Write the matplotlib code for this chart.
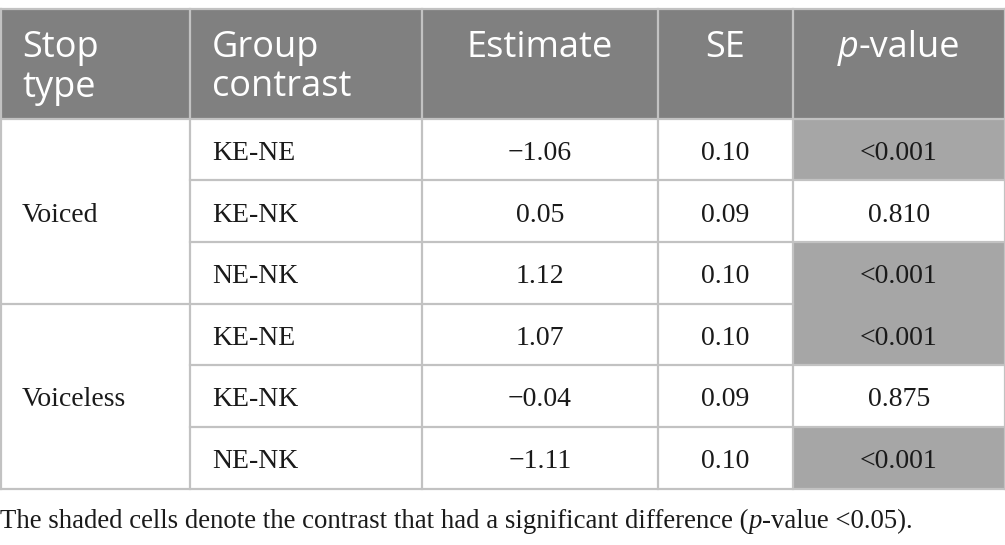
import matplotlib
matplotlib.use("Agg")
import matplotlib.pyplot as plt
from matplotlib.patches import Rectangle

# ---- data ----
headers = [["Stop", "type"], ["Group", "contrast"], ["Estimate"], ["SE"], ["p-value"]]
stop_types = ["Voiced", "Voiceless"]
contrasts = ["KE-NE", "KE-NK", "NE-NK", "KE-NE", "KE-NK", "NE-NK"]
estimates = ["\u22121.06", "0.05", "1.12", "1.07", "\u22120.04", "\u22121.11"]
se_values = ["0.10", "0.09", "0.10", "0.10", "0.09", "0.10"]
p_values = ["<0.001", "0.810", "<0.001", "<0.001", "0.875", "<0.001"]
significant = [True, False, True, True, False, True]
caption_parts = [("The shaded cells denote the contrast that had a significant difference (", "normal"),
                 ("p", "italic"), ("-value <0.05).", "normal")]

# ---- layout ----
W, H = 1005, 545
col_edges = [0.5, 190, 422, 658, 793, 1004.5]
table_top = 8.5
header_bottom = 118.5
row_h = (488.5 - header_bottom) / len(contrasts)
row_edges = [header_bottom + i * row_h for i in range(len(contrasts) + 1)]

HEAD_BG = "#808080"
SHADE = "#a6a6a6"
GRID = "#c2c2c2"
TXT = "#1a1a1a"
SANS = "Open Sans"
SERIF = "Liberation Serif"
HFS = 26
BFS = 20
CFS = 19.3

fig = plt.figure(figsize=(W / 100, H / 100), dpi=100)
ax = fig.add_axes([0, 0, 1, 1])
ax.set_xlim(0, W)
ax.set_ylim(H, 0)
ax.axis("off")

# header background
ax.add_patch(Rectangle((col_edges[0], table_top), col_edges[-1] - col_edges[0],
                       header_bottom - table_top, facecolor=HEAD_BG, edgecolor="none", zorder=1))
# shaded p-value cells
for i, sig in enumerate(significant):
    if sig:
        ax.add_patch(Rectangle((col_edges[4], row_edges[i]), col_edges[5] - col_edges[4], row_h,
                               facecolor=SHADE, edgecolor="none", zorder=1))

lw = 1.6
for y in (table_top, header_bottom, row_edges[-1]):
    ax.plot([col_edges[0], col_edges[-1]], [y, y], color=GRID, lw=lw, zorder=3, solid_capstyle="projecting")
for x in col_edges:
    ax.plot([x, x], [table_top, row_edges[-1]], color=GRID, lw=lw, zorder=3, solid_capstyle="projecting")
n_per_group = len(contrasts) // len(stop_types)
for i in range(1, len(contrasts)):
    y = row_edges[i]
    x0 = col_edges[0] if i % n_per_group == 0 else col_edges[1]
    x1 = col_edges[4] if (significant[i - 1] and significant[i]) else col_edges[5]
    ax.plot([x0, x1], [y, y], color=GRID, lw=lw, zorder=3, solid_capstyle="projecting")

# header text
hb0 = 57
hls = 39.5
r = fig.canvas.get_renderer()
for c, lines in enumerate(headers):
    for k, line in enumerate(lines):
        y = hb0 + k * hls
        if c < 2:
            x = col_edges[c] + 22
            ax.text(x, y, line, ha="left", va="baseline", fontsize=HFS, family=SANS, color="white", zorder=4)
        else:
            xc = (col_edges[c] + col_edges[c + 1]) / 2
            if line.startswith("p-"):
                t1 = ax.text(0, y, "p", ha="left", va="baseline", fontsize=HFS, family=SANS,
                             style="italic", color="white", zorder=4)
                t2 = ax.text(0, y, line[1:], ha="left", va="baseline", fontsize=HFS, family=SANS,
                             color="white", zorder=4)
                w1 = t1.get_window_extent(r).width
                w2 = t2.get_window_extent(r).width
                start = xc - (w1 + w2) / 2
                t1.set_x(start)
                t2.set_x(start + w1)
            else:
                ax.text(xc, y, line, ha="center", va="baseline", fontsize=HFS, family=SANS,
                        color="white", zorder=4)

# body text
off = 10.5
for g, name in enumerate(stop_types):
    yc = (row_edges[g * n_per_group] + row_edges[(g + 1) * n_per_group]) / 2
    ax.text(col_edges[0] + 21.5, yc + off, name, ha="left", va="baseline", fontsize=BFS,
            family=SERIF, color=TXT, zorder=4)
for i in range(len(contrasts)):
    yc = (row_edges[i] + row_edges[i + 1]) / 2 + off
    ax.text(col_edges[1] + 22, yc, contrasts[i], ha="left", va="baseline", fontsize=BFS,
            family=SERIF, color=TXT, zorder=4)
    for c, vals in ((2, estimates), (3, se_values), (4, p_values)):
        xc = (col_edges[c] + col_edges[c + 1]) / 2
        ax.text(xc, yc, vals[i], ha="center", va="baseline", fontsize=BFS,
                family=SERIF, color=TXT, zorder=4)

# caption
x = 0.5
cap_y = 528
for txt, st in caption_parts:
    t = ax.text(x, cap_y, txt, ha="left", va="baseline", fontsize=CFS, family=SERIF,
                style=st, color=TXT, zorder=4)
    x += t.get_window_extent(r).width

fig.savefig("out.png", dpi=100)
